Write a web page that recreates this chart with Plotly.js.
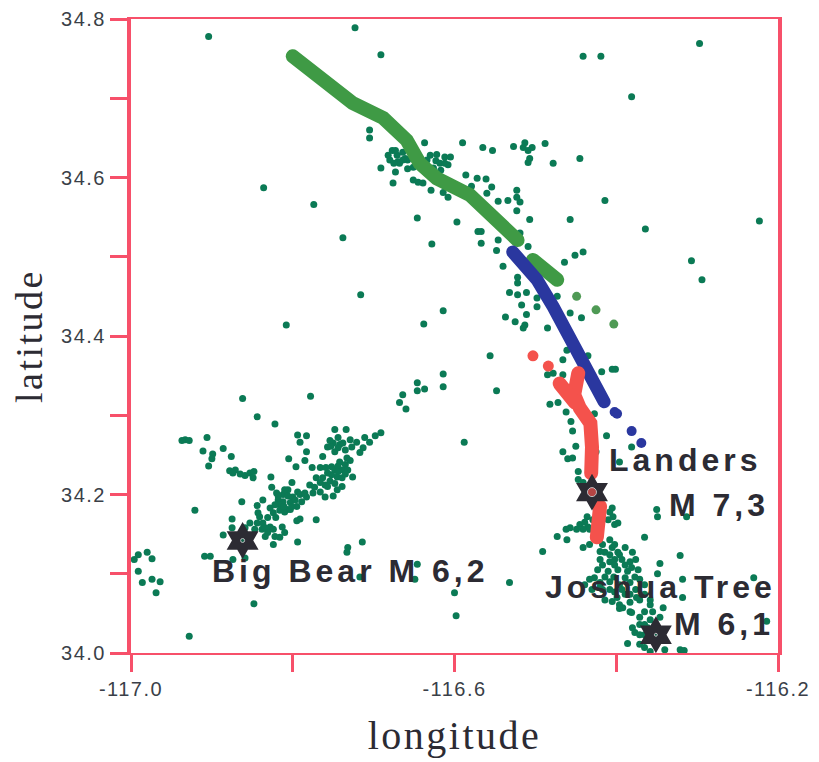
<!DOCTYPE html>
<html><head><meta charset="utf-8">
<script src="https://cdn.plot.ly/plotly-3.0.1.min.js"></script>
<style>
html,body{margin:0;padding:0;background:#fff}
.xtick text,.ytick text{letter-spacing:1.5px}
.xtitle,.ytitle{letter-spacing:2.5px}
.annotation-text{letter-spacing:4px}
.scatterlayer .js-line{stroke-linecap:round}
</style></head><body><div id="chart" style="width:819px;height:762px"></div>
<script>
// Aftershock epicentres by region
const outerLon=[-116.904,-116.723,-116.691,-116.441,-116.419,-116.297,-116.381,-116.705,-116.705,-116.836,-116.774,-116.738,-116.716,-116.808,-116.223,-116.364,-116.307,-116.294,-116.414,-116.457,-116.507,-116.646,-116.597,-116.628,-116.571,-116.567,-116.567,-116.614,-116.638,-116.556,-116.614,-116.614,-116.646,-116.637,-116.646,-116.664,-116.778,-116.862,-116.548,-116.588];
const outerLat=[34.778,34.789,34.755,34.753,34.753,34.769,34.702,34.660,34.650,34.587,34.566,34.524,34.452,34.414,34.545,34.535,34.495,34.471,34.571,34.547,34.547,34.549,34.544,34.516,34.532,34.532,34.517,34.432,34.415,34.375,34.352,34.336,34.341,34.333,34.331,34.326,34.324,34.321,34.331,34.266];
const bigBearWestLon=[-116.844,-116.822,-116.668,-116.660,-116.933,-116.928,-116.937,-116.906,-116.911,-116.886,-116.899,-116.900,-116.904,-116.876,-116.878,-116.871,-116.865,-116.859,-116.853,-116.848,-116.849,-116.874,-116.921,-116.909,-116.902,-116.848,-116.928,-116.991,-116.980,-116.974,-116.991,-116.986,-116.974,-116.964,-116.969,-116.996];
const bigBearWestLat=[34.298,34.289,34.316,34.308,34.269,34.268,34.268,34.272,34.255,34.258,34.251,34.245,34.236,34.248,34.230,34.231,34.226,34.224,34.227,34.229,34.221,34.227,34.180,34.122,34.122,34.062,34.021,34.124,34.127,34.119,34.103,34.089,34.093,34.090,34.076,34.118];
const bigBearLon=[-116.691,-116.698,-116.711,-116.721,-116.713,-116.717,-116.727,-116.742,-116.750,-116.757,-116.748,-116.738,-116.748,-116.734,-116.794,-116.783,-116.791,-116.783,-116.785,-116.805,-116.796,-116.763,-116.776,-116.766,-116.742,-116.733,-116.738,-116.748,-116.757,-116.745,-116.739,-116.763,-116.752,-116.766,-116.757,-116.739,-116.726,-116.760,-116.750,-116.779,-116.773,-116.801,-116.806,-116.794,-116.826,-116.827,-116.820,-116.812,-116.800,-116.791,-116.783,-116.818,-116.812,-116.803,-116.795,-116.807,-116.816,-116.824,-116.828,-116.810,-116.863,-116.837,-116.844,-116.791,-116.795,-116.771,-116.875,-116.841,-116.844,-116.837,-116.828,-116.853,-116.838,-116.824,-116.813,-116.816,-116.824,-116.794,-116.714,-116.732,-116.733,-116.875,-116.886,-116.859,-116.874,-116.646,-116.649,-116.600,-116.598,-116.717];
const bigBearLat=[34.278,34.274,34.272,34.266,34.259,34.253,34.260,34.263,34.265,34.260,34.254,34.265,34.282,34.282,34.275,34.274,34.266,34.254,34.243,34.245,34.235,34.248,34.234,34.234,34.241,34.246,34.231,34.231,34.227,34.222,34.221,34.221,34.235,34.215,34.210,34.210,34.222,34.197,34.198,34.212,34.209,34.215,34.206,34.203,34.209,34.222,34.202,34.200,34.197,34.200,34.197,34.193,34.191,34.190,34.185,34.181,34.187,34.177,34.183,34.178,34.191,34.193,34.186,34.169,34.167,34.168,34.169,34.172,34.164,34.164,34.159,34.164,34.156,34.156,34.159,34.146,34.137,34.140,34.140,34.133,34.127,34.158,34.149,34.120,34.118,34.112,34.093,34.076,34.047,34.096];
const bigBearDenseLon=[-116.753,-116.744,-116.735,-116.729,-116.705,-116.754,-116.744,-116.744,-116.735,-116.729,-116.744,-116.752,-116.732,-116.759,-116.754,-116.748,-116.760,-116.771,-116.735,-116.745,-116.766,-116.775,-116.810,-116.818,-116.806,-116.797,-116.789,-116.803,-116.816,-116.822,-116.801,-116.811,-116.821,-116.831,-116.785,-116.843,-116.834,-116.831,-116.847,-116.859,-116.834,-116.822,-116.810];
const bigBearDenseLat=[34.261,34.259,34.256,34.269,34.266,34.268,34.272,34.236,34.238,34.243,34.229,34.225,34.231,34.234,34.217,34.214,34.212,34.221,34.226,34.206,34.203,34.202,34.206,34.198,34.198,34.193,34.191,34.181,34.180,34.187,34.185,34.185,34.171,34.171,34.202,34.177,34.158,34.152,34.156,34.158,34.147,34.147,34.152];
const northLon=[-116.637,-116.590,-116.565,-116.553,-116.527,-116.515,-116.504,-116.513,-116.509,-116.488,-116.509,-116.507,-116.478,-116.445,-116.677,-116.671,-116.664,-116.680,-116.668,-116.658,-116.651,-116.691,-116.673,-116.676,-116.673,-116.661,-116.670,-116.623,-116.630,-116.622,-116.612,-116.605,-116.608,-116.617,-116.634,-116.651,-116.645,-116.639,-116.629,-116.614,-116.608,-116.586,-116.572,-116.561,-116.554,-116.579,-116.560,-116.523,-116.546,-116.534,-116.519,-116.523,-116.523,-116.546,-116.548,-116.509,-116.519,-116.540,-116.464,-116.451,-116.441,-116.682,-116.675,-116.664,-116.658,-116.618,-116.612,-116.626,-116.636];
const northLat=[34.644,34.644,34.638,34.634,34.639,34.638,34.638,34.644,34.634,34.643,34.619,34.624,34.618,34.624,34.634,34.628,34.632,34.622,34.618,34.622,34.613,34.612,34.607,34.593,34.634,34.624,34.620,34.621,34.628,34.629,34.626,34.626,34.616,34.609,34.622,34.597,34.594,34.593,34.584,34.581,34.575,34.603,34.599,34.598,34.588,34.589,34.580,34.584,34.570,34.571,34.569,34.575,34.558,34.521,34.508,34.513,34.530,34.488,34.493,34.502,34.506,34.628,34.618,34.622,34.611,34.618,34.618,34.612,34.607];
const landersLon=[-116.522,-116.522,-116.532,-116.522,-116.511,-116.498,-116.498,-116.517,-116.511,-116.537,-116.525,-116.513,-116.515,-116.473,-116.457,-116.443,-116.485,-116.435,-116.466,-116.401,-116.405,-116.418,-116.485,-116.478,-116.466,-116.461,-116.482,-116.472,-116.462,-116.427,-116.456,-116.454,-116.412,-116.450,-116.466,-116.460,-116.454,-116.425,-116.381,-116.396,-116.447,-116.447,-116.441,-116.405,-116.404,-116.398,-116.410,-116.436,-116.445,-116.435,-116.429,-116.441,-116.462,-116.473,-116.461,-116.457,-116.491,-116.441,-116.433,-116.365,-116.350,-116.349,-116.313,-116.321,-116.346,-116.349,-116.318,-116.318,-116.230,-116.214,-116.532,-116.408,-116.402,-116.439,-116.433,-116.449];
const landersLat=[34.474,34.467,34.455,34.452,34.455,34.448,34.437,34.439,34.427,34.424,34.418,34.414,34.410,34.450,34.429,34.423,34.410,34.375,34.370,34.358,34.358,34.355,34.351,34.353,34.351,34.382,34.314,34.316,34.304,34.302,34.292,34.280,34.274,34.261,34.254,34.245,34.246,34.254,34.260,34.241,34.229,34.219,34.215,34.183,34.172,34.164,34.168,34.172,34.162,34.159,34.168,34.156,34.156,34.147,34.143,34.158,34.128,34.133,34.137,34.146,34.181,34.172,34.172,34.123,34.113,34.100,34.093,34.070,34.095,34.040,34.089,34.178,34.162,34.165,34.156,34.156];
const joshuaLon=[-116.408,-116.405,-116.414,-116.398,-116.420,-116.408,-116.393,-116.383,-116.376,-116.423,-116.410,-116.398,-116.386,-116.373,-116.420,-116.427,-116.408,-116.396,-116.383,-116.371,-116.433,-116.439,-116.430,-116.417,-116.402,-116.389,-116.376,-116.365,-116.365,-116.405,-116.396,-116.383,-116.371,-116.402,-116.389,-116.380,-116.414,-116.392,-116.358,-116.355,-116.342,-116.365,-116.383,-116.358,-116.361,-116.365,-116.371,-116.352,-116.346,-116.377,-116.386,-116.371,-116.365,-116.340,-116.321,-116.316,-116.358,-116.396,-116.381];
const joshuaLat=[34.143,34.133,34.127,34.127,34.118,34.115,34.118,34.115,34.118,34.105,34.103,34.105,34.103,34.105,34.089,34.095,34.090,34.086,34.089,34.093,34.093,34.086,34.080,34.080,34.077,34.074,34.080,34.074,34.086,34.065,34.061,34.064,34.067,34.118,34.133,34.127,34.067,34.057,34.061,34.052,34.057,34.052,34.052,34.042,34.032,34.023,34.036,34.036,34.045,34.026,34.012,34.011,34.007,34.004,34.004,34.003,34.002,34.056,34.051];
const joshuaDenseLon=[-116.417,-116.402,-116.396,-116.408,-116.420,-116.417,-116.402,-116.389,-116.381,-116.414,-116.403,-116.389,-116.377,-116.420,-116.408,-116.393,-116.383,-116.399,-116.375,-116.358,-116.365,-116.371,-116.380,-116.371];
const joshuaDenseLat=[34.137,34.137,34.124,34.124,34.128,34.111,34.111,34.111,34.108,34.096,34.096,34.095,34.096,34.083,34.080,34.080,34.074,34.070,34.070,34.067,34.036,34.045,34.032,34.023];
// Mapped fault traces (null = gap)
const greenLon=[-116.800,-116.766,-116.745,-116.726,-116.688,-116.659,-116.643,-116.622,-116.581,-116.556,-116.522,null,-116.503,-116.473];
const greenLat=[34.753,34.727,34.708,34.694,34.675,34.647,34.618,34.599,34.578,34.552,34.521,null,34.496,34.471];
const greenDotLon=[-116.449,-116.425,-116.403];
const greenDotLat=[34.450,34.433,34.415];
const blueLon=[-116.528,-116.498,-116.478,-116.457,-116.436,-116.420,-116.415];
const blueLat=[34.506,34.471,34.437,34.395,34.361,34.328,34.317];
const blueDotLon=[-116.402,-116.399,-116.381,-116.369];
const blueDotLat=[34.304,34.302,34.280,34.265];
const redLon=[-116.447,-116.452,-116.445,-116.432,-116.430,-116.431,null,-116.470,-116.451,null,-116.420,-116.424];
const redLat=[34.353,34.326,34.309,34.290,34.260,34.227,null,34.340,34.316,null,34.185,34.146];
const redDotLon=[-116.503,-116.484];
const redDotLat=[34.375,34.362];
// Mainshocks
const shockLon=[-116.862,-116.430,-116.351];
const shockLat=[34.142,34.203,34.023];
const shockCentre=['#0b7a55','#f0504c','#0b7a55'];
const shockCentreSize=[4,9,3];
// Labels
const labelText=['Big Bear M 6,2','Landers','M 7,3','Joshua Tree','M 6,1'];
const labelLon=[-116.902,-116.412,-116.337,-116.491,-116.331];
const labelLat=[34.103,34.244,34.187,34.083,34.036];
// Axis ticks
const lonTicks=[-117,-116.8,-116.6,-116.4,-116.2];
const lonTickText=['-117.0','','-116.6','','-116.2'];
const latTicks=[34,34.1,34.2,34.3,34.4,34.5,34.6,34.7,34.8];
const latTickText=['34.0','','34.2','','34.4','','34.6','','34.8'];

const RED='#f7506a', DARK='#2c2b33', INK='#3a3f48';
const bgLon=[].concat(outerLon,bigBearWestLon,bigBearLon,bigBearDenseLon,northLon,landersLon,joshuaLon,joshuaDenseLon);
const bgLat=[].concat(outerLat,bigBearWestLat,bigBearLat,bigBearDenseLat,northLat,landersLat,joshuaLat,joshuaDenseLat);
const traces=[
 {x:bgLon,y:bgLat,mode:'markers',marker:{color:'#0b7a55',size:7}},
 {x:greenLon,y:greenLat,mode:'lines',line:{color:'#3f9a45',width:14}},
 {x:greenDotLon,y:greenDotLat,mode:'markers',marker:{color:'#4f9a55',size:9}},
 {x:blueLon,y:blueLat,mode:'lines',line:{color:'#2a379f',width:13}},
 {x:blueDotLon,y:blueDotLat,mode:'markers',marker:{color:'#2a379f',size:10}},
 {x:redLon,y:redLat,mode:'lines',line:{color:'#f4524c',width:14}},
 {x:redDotLon,y:redDotLat,mode:'markers',marker:{color:'#f4524c',size:11}},
 {x:shockLon,y:shockLat,mode:'markers',marker:{symbol:'hexagram',color:DARK,size:28}},
 {x:shockLon,y:shockLat,mode:'markers',marker:{color:shockCentre,size:shockCentreSize}}
];
const layout={
 width:819,height:762,showlegend:false,paper_bgcolor:'#fff',plot_bgcolor:'#fff',
 margin:{l:131,r:41,t:18.5,b:108.5},
 xaxis:{range:[-117,-116.2],tickmode:'array',tickvals:lonTicks,ticktext:lonTickText,ticks:'outside',ticklen:17,tickwidth:3,tickcolor:RED,
  showline:true,mirror:true,linecolor:RED,linewidth:2,showgrid:false,zeroline:false,
  tickfont:{family:'Liberation Sans',size:20,color:INK},
  title:{text:'longitude',font:{family:'Liberation Serif',size:40,color:DARK},standoff:22}},
 yaxis:{range:[34,34.8],tickmode:'array',tickvals:latTicks,ticktext:latTickText,ticks:'outside',ticklen:17,tickwidth:3,tickcolor:RED,
  showline:true,mirror:true,linecolor:RED,linewidth:4,showgrid:false,zeroline:false,
  tickfont:{family:'Liberation Sans',size:20,color:INK},
  title:{text:'latitude',font:{family:'Liberation Serif',size:38,color:DARK},standoff:8}},
 annotations:labelText.map((t,i)=>({x:labelLon[i],y:labelLat[i],xref:'x',yref:'y',text:t,showarrow:false,xanchor:'left',yanchor:'middle',
  font:{family:'Liberation Sans',size:32,color:DARK,weight:'bold'}}))
};
Plotly.newPlot('chart',traces,layout,{displayModeBar:false});
</script></body></html>
